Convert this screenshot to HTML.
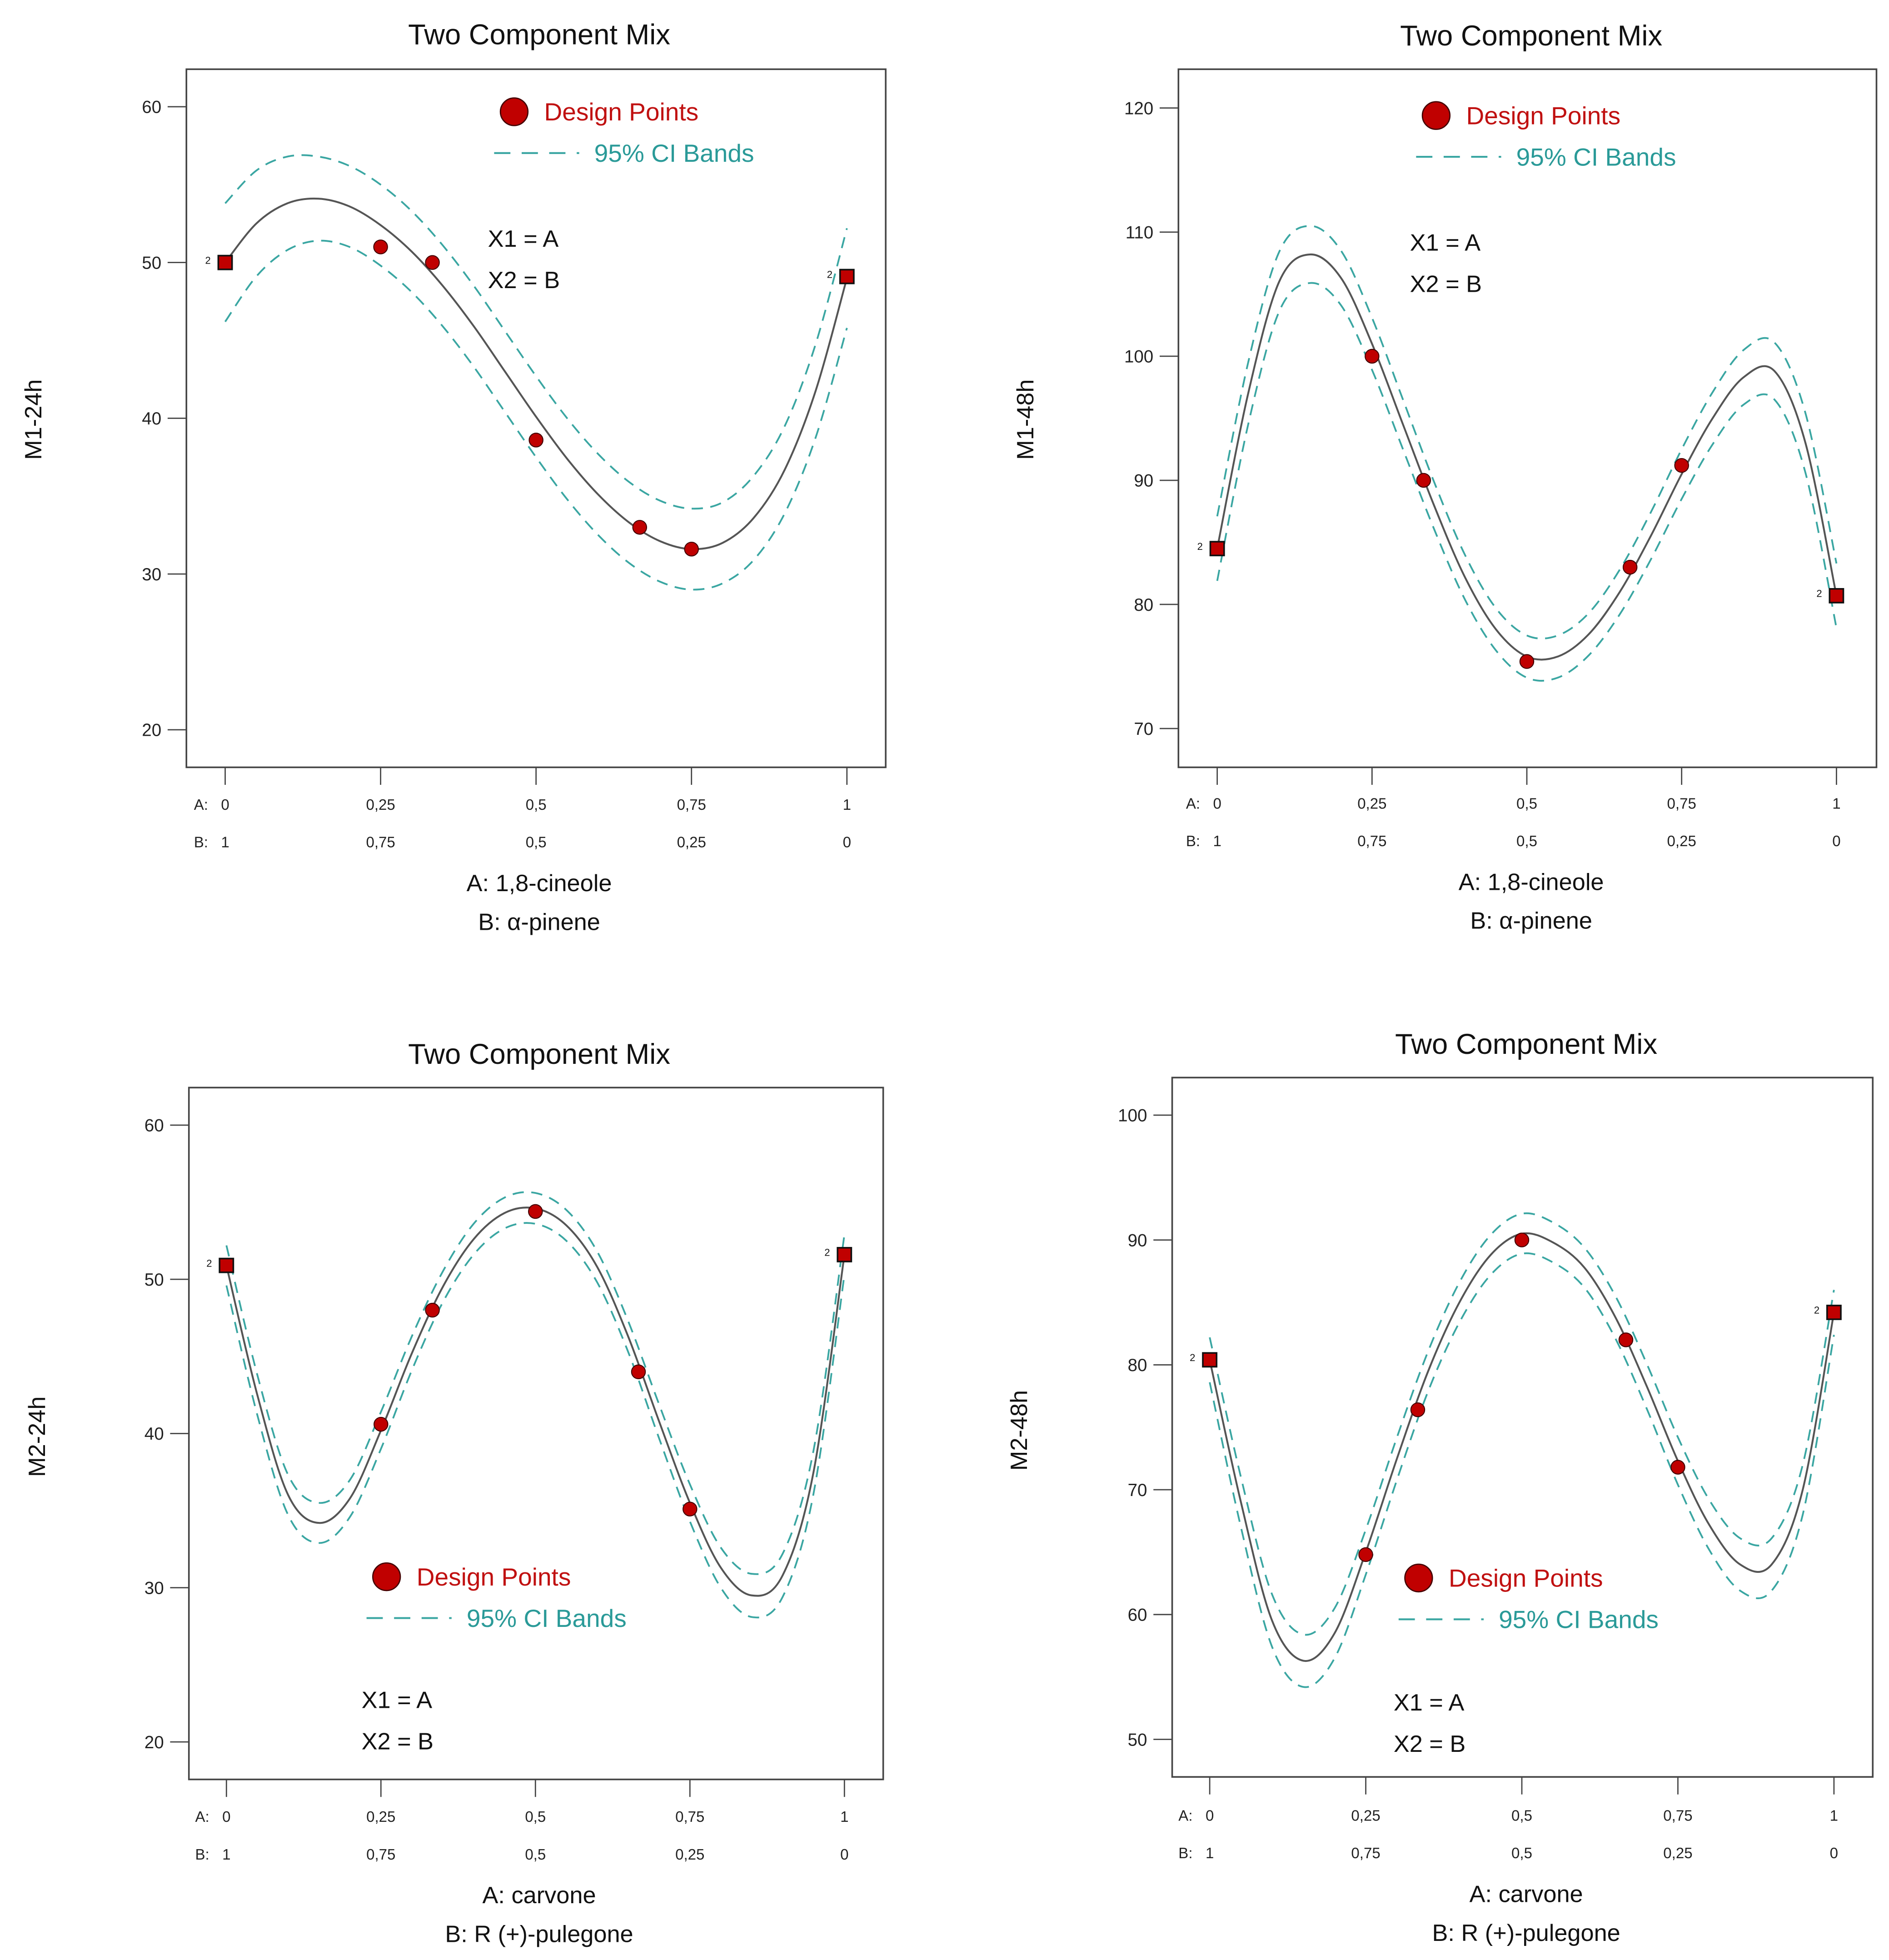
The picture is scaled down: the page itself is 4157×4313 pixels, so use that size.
<!DOCTYPE html>
<html><head><meta charset="utf-8"><style>
html,body{margin:0;padding:0;background:#fff;}
svg{display:block;font-family:"Liberation Sans",sans-serif;}
</style></head><body>
<svg id="fig" width="4157" height="4313" viewBox="0 0 1510 1566" xmlns="http://www.w3.org/2000/svg"></svg>
<script>
// ---- data ----
const curveX = [0,.05,.1,.15,.2,.25,.3,.35,.4,.45,.5,.55,.6,.65,.7,.75,.8,.85,.9,.95,1];
const xTickA = ["0","0,25","0,5","0,75","1"];
const xTickB = ["1","0,75","0,5","0,25","0"];
const designX = [0,.25,.3333,.5,.6667,.75,1];

const m124Fit = [50,52.5,53.8,54.1,53.6,52.4,50.7,48.5,45.9,43.0,40.1,37.4,35.1,33.3,32.1,31.6,32.0,33.6,36.7,41.8,49];
const m124CI  = [3.8,3.4,3.0,2.7,2.6,2.6,2.6,2.6,2.6,2.6,2.6,2.6,2.6,2.6,2.6,2.6,2.6,2.7,2.8,3.0,3.2];
const m124Pts = [50,51,50,38.6,33,31.6,49.1];
const m124Ticks = [20,30,40,50,60];

const m148Fit = [84.5,97,106,108.2,106.3,101,94.5,88,82.2,78,75.8,75.8,77.6,81,85.5,90.5,95,98.3,98.8,93,80.7];
const m148CI  = [2.6,2.5,2.4,2.3,2.2,2.1,2.0,1.9,1.8,1.7,1.7,1.7,1.7,1.8,1.9,2.0,2.1,2.2,2.3,2.4,2.6];
const m148Pts = [84.5,100,90,75.4,83,91.2,80.7];
const m148Ticks = [70,80,90,100,110,120];

const m224Fit = [50.9,42.5,36,34.2,35.8,40.2,45.2,49.5,52.6,54.3,54.6,53.5,50.8,46.3,40.8,35.5,31.3,29.5,30.8,37.5,51.6];
const m224CI  = [1.3,1.3,1.3,1.3,1.2,1.2,1.1,1.0,1.0,1.0,1.0,1.0,1.0,1.0,1.1,1.2,1.3,1.4,1.4,1.4,1.3];
const m224Pts = [50.9,40.6,48,54.4,44,35.1,51.6];
const m224Ticks = [20,30,40,50,60];

const m248Fit = [80.4,69,59.5,56.3,58.5,65,72.5,79.5,85,88.8,90.5,89.8,87.8,83.8,78.3,72.3,67.2,64.0,64.0,70.0,84.2];
const m248CI  = [1.8,2.0,2.1,2.1,2.0,1.8,1.7,1.6,1.6,1.6,1.6,1.6,1.6,1.7,1.8,1.9,2.0,2.1,2.1,2.0,1.8];
const m248Pts = [80.4,64.8,76.4,90,82,71.8,84.2];
const m248Ticks = [50,60,70,80,90,100];

const NS="http://www.w3.org/2000/svg";
const svg=document.getElementById('fig');
function mk(tag,attrs,parent,txt){const e=document.createElementNS(NS,tag);for(const k in attrs)e.setAttribute(k,attrs[k]);if(txt!==undefined)e.textContent=txt;(parent||svg).appendChild(e);return e;}
function smooth(pts){let d="M"+pts[0][0]+","+pts[0][1];for(let i=0;i<pts.length-1;i++){const p0=pts[Math.max(0,i-1)],p1=pts[i],p2=pts[i+1],p3=pts[Math.min(pts.length-1,i+2)];const c1=[p1[0]+(p2[0]-p0[0])/6,p1[1]+(p2[1]-p0[1])/6],c2=[p2[0]-(p3[0]-p1[0])/6,p2[1]-(p3[1]-p1[1])/6];d+=" C"+c1[0].toFixed(2)+","+c1[1].toFixed(2)+" "+c2[0].toFixed(2)+","+c2[1].toFixed(2)+" "+p2[0].toFixed(2)+","+p2[1].toFixed(2);}return d;}

function chart(c){
  const g=mk('g',{});
  
  
  const xs=v=>c.x0+(c.x1-c.x0)*v;
  const ys=v=>c.yb-(v-c.ymin)*(c.yb-c.yt)/(c.ymax-c.ymin);
  const box=mk('rect',{x:c.bx0,y:c.by0,width:c.bx1-c.bx0,height:c.by1-c.by0,fill:'none',stroke:'#444','stroke-width':1.3},g);
  
  const t=mk('text',{x:c.tx,y:c.ty,'font-size':23,'text-anchor':'middle',fill:'#111'},g,'Two Component Mix');
  
  const yl=mk('text',{x:c.ylx,y:c.yly,'font-size':19,'text-anchor':'middle',fill:'#111',transform:`rotate(-90 ${c.ylx} ${c.yly})`},g,c.ylabel);
  
  c.ticks.forEach(v=>{const y=ys(v);
    const l=mk('line',{x1:c.bx0-15,x2:c.bx0,y1:y,y2:y,stroke:'#444','stroke-width':1},g);
    
    const tl=mk('text',{x:c.bx0-20,y:y+5,'font-size':14,'text-anchor':'end',fill:'#222'},g,String(v));
    
  });
  xTickA.forEach((s,i)=>{const x=xs(i/4);
    const l=mk('line',{x1:x,x2:x,y1:c.by1,y2:c.by1+14,stroke:'#444','stroke-width':1},g);
    
    const a=mk('text',{x:x,y:c.ay,'font-size':12,'text-anchor':'middle',fill:'#222'},g,s);
    
    const b=mk('text',{x:x,y:c.ay+30,'font-size':12,'text-anchor':'middle',fill:'#222'},g,xTickB[i]);
    
  });
  const al=mk('text',{x:xs(0)-25,y:c.ay,'font-size':12,fill:'#222'},g,'A:');
  const bl=mk('text',{x:xs(0)-25,y:c.ay+30,'font-size':12,fill:'#222'},g,'B:');
  const xa=mk('text',{x:c.tx,y:c.ay+65,'font-size':19,'text-anchor':'middle',fill:'#111'},g,c.xa);
  const xb=mk('text',{x:c.tx,y:c.ay+96,'font-size':19,'text-anchor':'middle',fill:'#111'},g,c.xb);
  const up=curveX.map((x,i)=>[xs(x),ys(c.fit[i]+c.ci[i])]);
  const lo=curveX.map((x,i)=>[xs(x),ys(c.fit[i]-c.ci[i])]);
  const u=mk('path',{d:smooth(up),fill:'none',stroke:'#3aa6a2','stroke-width':1.4,'stroke-dasharray':'9,6'},g);
  const lw=mk('path',{d:smooth(lo),fill:'none',stroke:'#3aa6a2','stroke-width':1.4,'stroke-dasharray':'9,6'},g);
  const f=mk('path',{d:smooth(curveX.map((x,i)=>[xs(x),ys(c.fit[i])])),fill:'none',stroke:'#555','stroke-width':1.5},g);
  designX.forEach((x,i)=>{const px=xs(x),py=ys(c.pts[i]);
    if(i===0||i===designX.length-1){
      const s=mk('rect',{x:px-5.5,y:py-5.5,width:11,height:11,fill:'#c00000',stroke:'#111','stroke-width':1.3},g);
      
      const n=mk('text',{x:px-16,y:py+1,'font-size':8,fill:'#111'},g,'2');
    } else {
      const p=mk('circle',{cx:px,cy:py,r:5.5,fill:'#c00000',stroke:'#400','stroke-width':0.8},g);
      
    }
  });
  const L=c.leg;
  const lc=mk('circle',{cx:L.x+16,cy:L.y,r:11,fill:'#c00000',stroke:'#400','stroke-width':1},g);
  const lt=mk('text',{x:L.x+40,y:L.y+7,'font-size':20,fill:'#c01010'},g,'Design Points');
  const ld=mk('line',{x1:L.x,x2:L.x+68,y1:L.y+33,y2:L.y+33,stroke:'#3aa6a2','stroke-width':1.5,'stroke-dasharray':'13,9'},g);
  const lt2=mk('text',{x:L.x+80,y:L.y+40,'font-size':20,fill:'#2a9a98'},g,'95% CI Bands');
  const x1=mk('text',{x:c.eq.x,y:c.eq.y,'font-size':19,fill:'#111'},g,'X1 = A');
  const x2=mk('text',{x:c.eq.x,y:c.eq.y+33,'font-size':19,fill:'#111'},g,'X2 = B');
}

chart({name:'chart-m1-24h',bx0:149,bx1:708,by0:55,by1:613,x0:180,x1:677,ymin:20,ymax:60,yb:583,yt:85,ticks:m124Ticks,fit:m124Fit,ci:m124CI,pts:m124Pts,
  tx:431,ty:35,ylx:33,yly:335,ylabel:'M1-24h',ay:647,xa:'A: 1,8-cineole',xb:'B: α-pinene',leg:{x:395,y:89},eq:{x:390,y:197}});
chart({name:'chart-m1-48h',bx0:942,bx1:1500,by0:55,by1:613,x0:973,x1:1468,ymin:70,ymax:120,yb:582,yt:86,ticks:m148Ticks,fit:m148Fit,ci:m148CI,pts:m148Pts,
  tx:1224,ty:36,ylx:826,yly:335,ylabel:'M1-48h',ay:646,xa:'A: 1,8-cineole',xb:'B: α-pinene',leg:{x:1132,y:92},eq:{x:1127,y:200}});
chart({name:'chart-m2-24h',bx0:151,bx1:706,by0:869,by1:1422,x0:181,x1:675,ymin:20,ymax:60,yb:1392,yt:899,ticks:m224Ticks,fit:m224Fit,ci:m224CI,pts:m224Pts,
  tx:431,ty:850,ylx:36,yly:1148,ylabel:'M2-24h',ay:1456,xa:'A: carvone',xb:'B: R (+)-pulegone',leg:{x:293,y:1260},eq:{x:289,y:1365}});
chart({name:'chart-m2-48h',bx0:937,bx1:1497,by0:861,by1:1420,x0:967,x1:1466,ymin:50,ymax:100,yb:1390,yt:891,ticks:m248Ticks,fit:m248Fit,ci:m248CI,pts:m248Pts,
  tx:1220,ty:842,ylx:821,yly:1143,ylabel:'M2-48h',ay:1455,xa:'A: carvone',xb:'B: R (+)-pulegone',leg:{x:1118,y:1261},eq:{x:1114,y:1367}});
</script>
</body></html>
